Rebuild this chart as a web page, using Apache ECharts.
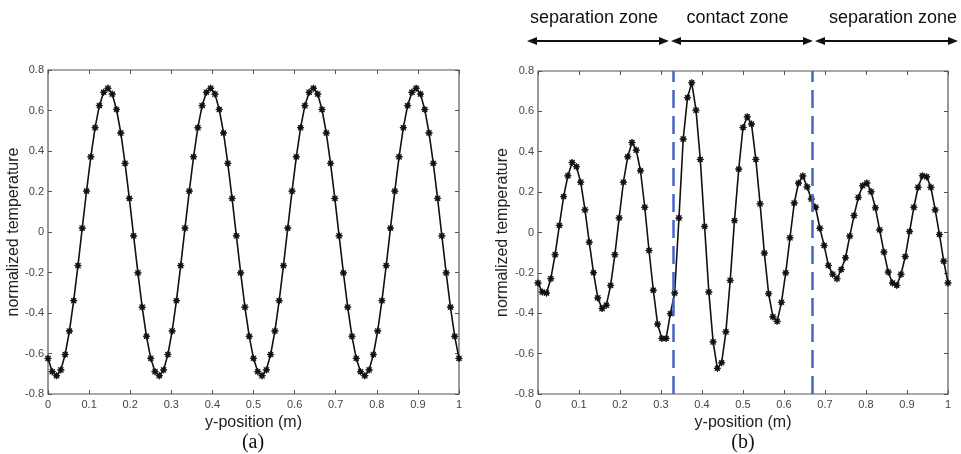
<!DOCTYPE html>
<html>
<head>
<meta charset="utf-8">
<script src="https://cdn.jsdelivr.net/npm/echarts@6/dist/echarts.min.js"></script>
<style>html,body{margin:0;padding:0;background:#fff}#c{width:961px;height:454px}</style>
</head>
<body>
<div id="c"></div>
<script>
// sample positions along y (m)
const yPositions = [0,0.0104,0.0208,0.0313,0.0417,0.0521,0.0625,0.0729,0.0833,0.0938,0.1042,0.1146,0.125,0.1354,0.1458,0.1563,0.1667,0.1771,0.1875,0.1979,0.2083,0.2188,0.2292,0.2396,
0.25,0.2604,0.2708,0.2813,0.2917,0.3021,0.3125,0.3229,0.3333,0.3438,0.3542,0.3646,0.375,0.3854,0.3958,0.4063,0.4167,0.4271,0.4375,0.4479,0.4583,0.4688,0.4792,0.4896,
0.5,0.5104,0.5208,0.5313,0.5417,0.5521,0.5625,0.5729,0.5833,0.5938,0.6042,0.6146,0.625,0.6354,0.6458,0.6563,0.6667,0.6771,0.6875,0.6979,0.7083,0.7188,0.7292,0.7396,
0.75,0.7604,0.7708,0.7813,0.7917,0.8021,0.8125,0.8229,0.8333,0.8438,0.8542,0.8646,0.875,0.8854,0.8958,0.9063,0.9167,0.9271,0.9375,0.9479,0.9583,0.9688,0.9792,0.9896,1];

// panel (a) normalized temperature
const tempA = [-0.624,-0.690,-0.710,-0.681,-0.605,-0.489,-0.339,-0.166,0.019,0.202,0.371,0.515,0.624,0.690,0.710,0.681,0.605,0.489,0.339,0.166,-0.019,-0.202,-0.371,-0.515,
-0.624,-0.690,-0.710,-0.681,-0.605,-0.489,-0.339,-0.166,0.019,0.202,0.371,0.515,0.624,0.690,0.710,0.681,0.605,0.489,0.339,0.166,-0.019,-0.202,-0.371,-0.515,
-0.624,-0.690,-0.710,-0.681,-0.605,-0.489,-0.339,-0.166,0.019,0.202,0.371,0.515,0.624,0.690,0.710,0.681,0.605,0.489,0.339,0.166,-0.019,-0.202,-0.371,-0.515,
-0.624,-0.690,-0.710,-0.681,-0.605,-0.489,-0.339,-0.166,0.019,0.202,0.371,0.515,0.624,0.690,0.710,0.681,0.605,0.489,0.339,0.166,-0.019,-0.202,-0.371,-0.515,
-0.624];

// panel (b) normalized temperature
const tempB = [-0.25,-0.295,-0.30,-0.229,-0.11,0.035,0.178,0.281,0.347,0.326,0.249,0.112,-0.048,-0.199,-0.324,-0.377,-0.36,-0.262,-0.11,0.072,0.249,0.375,0.446,0.408,
0.306,0.125,-0.089,-0.286,-0.454,-0.525,-0.525,-0.402,-0.30,0.072,0.463,0.668,0.742,0.606,0.362,0.030,-0.295,-0.542,-0.673,-0.645,-0.492,-0.237,0.059,0.314,
0.52,0.573,0.537,0.362,0.142,-0.102,-0.303,-0.418,-0.44,-0.346,-0.2,-0.026,0.146,0.245,0.28,0.226,0.166,0.125,0.021,-0.064,-0.163,-0.207,-0.229,-0.183,
-0.125,-0.018,0.084,0.174,0.232,0.245,0.202,0.122,0.013,-0.097,-0.196,-0.25,-0.262,-0.207,-0.119,0.005,0.125,0.224,0.281,0.276,0.224,0.112,-0.01,-0.142,
-0.25];

// zone boundaries (dashed lines) in panel (b)
const zoneBounds = [0.334, 0.668];
const zoneLabels = ['separation zone', 'contact zone', 'separation zone'];

const chart = echarts.init(document.getElementById('c'), null, {renderer: 'canvas'});
const asterisk = 'path://M20 10 L14.62 11.91 L17.07 17.07 L11.91 14.62 L10 20 L8.09 14.62 L2.93 17.07 L5.38 11.91 L0 10 L5.38 8.09 L2.93 2.93 L8.09 5.38 L10 0 L11.91 5.38 L17.07 2.93 L14.62 8.09 Z';
const F = 'Liberation Sans, Arial, Helvetica, sans-serif';
const axisColor = '#555';

function xAx(g, pos, main) {
  return {
    gridIndex: g, type: 'value', min: 0, max: 1, interval: 0.1, position: pos,
    axisLine: {show: false, onZero: false},
    axisTick: {show: true, inside: true, length: 4, lineStyle: {color: axisColor, width: 1}},
    axisLabel: {show: main, color: '#444', fontSize: 11, margin: 5, fontFamily: F},
    splitLine: {show: false},
    name: main ? 'y-position (m)' : '', nameLocation: 'middle', nameGap: 17,
    nameTextStyle: {fontSize: 16, color: '#222', fontFamily: F}
  };
}
function yAx(g, pos, main, gap) {
  return {
    gridIndex: g, type: 'value', min: -0.8, max: 0.8, interval: 0.2, position: pos,
    axisLine: {show: false, onZero: false},
    axisTick: {show: true, inside: true, length: 4, lineStyle: {color: axisColor, width: 1}},
    axisLabel: {show: main, color: '#444', fontSize: 11, margin: 4, fontFamily: F},
    splitLine: {show: false},
    name: main ? 'normalized temperature' : '', nameLocation: 'middle', nameGap: gap,
    nameTextStyle: {fontSize: 16, color: '#222', fontFamily: F}
  };
}

function lineSeries(xi, yi, vals, extra) {
  return Object.assign({
    type: 'line', xAxisIndex: xi, yAxisIndex: yi,
    data: yPositions.map((x, i) => [x, vals[i]]),
    symbol: asterisk, symbolSize: 7, showAllSymbol: true,
    lineStyle: {color: '#111', width: 1.6},
    itemStyle: {color: '#111', borderColor: '#111', borderWidth: 0.8},
    z: 3
  }, extra || {});
}

const arrowY = 41;
const arrows = [[527, 669], [671, 813], [815, 958]];
const textCenters = [594, 737.5, 893];
const graphics = [];
arrows.forEach((a, k) => {
  const [x1, x2] = a;
  graphics.push({type: 'line', shape: {x1: x1 + 6, y1: arrowY, x2: x2 - 6, y2: arrowY}, style: {stroke: '#111', lineWidth: 2}});
  graphics.push({type: 'polygon', shape: {points: [[x1, arrowY], [x1 + 10, arrowY - 4], [x1 + 10, arrowY + 4]]}, style: {fill: '#111'}});
  graphics.push({type: 'polygon', shape: {points: [[x2, arrowY], [x2 - 10, arrowY - 4], [x2 - 10, arrowY + 4]]}, style: {fill: '#111'}});
  graphics.push({type: 'text', x: textCenters[k], y: 18, style: {text: zoneLabels[k], font: '18px ' + F, fill: '#111', align: 'center', verticalAlign: 'middle'}});
});
graphics.push({type: 'text', x: 253, y: 443, style: {text: '(a)', font: '20px Liberation Serif, Times New Roman, serif', fill: '#111', align: 'center', verticalAlign: 'middle'}});
graphics.push({type: 'text', x: 743, y: 443, style: {text: '(b)', font: '20px Liberation Serif, Times New Roman, serif', fill: '#111', align: 'center', verticalAlign: 'middle'}});

chart.setOption({
  animation: false,
  backgroundColor: '#fff',
  grid: [
    {left: 48, top: 70, width: 411, height: 324, show: true, borderColor: axisColor, borderWidth: 1.2, backgroundColor: 'transparent'},
    {left: 538, top: 71, width: 410, height: 323, show: true, borderColor: axisColor, borderWidth: 1.2, backgroundColor: 'transparent'}
  ],
  xAxis: [xAx(0, 'bottom', true), xAx(0, 'top', false), xAx(1, 'bottom', true), xAx(1, 'top', false)],
  yAxis: [yAx(0, 'left', true, 26), yAx(0, 'right', false, 0), yAx(1, 'left', true, 27), yAx(1, 'right', false, 0)],
  series: [
    lineSeries(0, 0, tempA),
    lineSeries(2, 2, tempB, {
      markLine: {
        silent: true, symbol: 'none', label: {show: false},
        lineStyle: {color: '#4a64c2', width: 2.5, type: [18, 8]},
        data: zoneBounds.map(v => ({xAxis: v}))
      }
    })
  ],
  graphic: graphics
});
</script>
</body>
</html>
